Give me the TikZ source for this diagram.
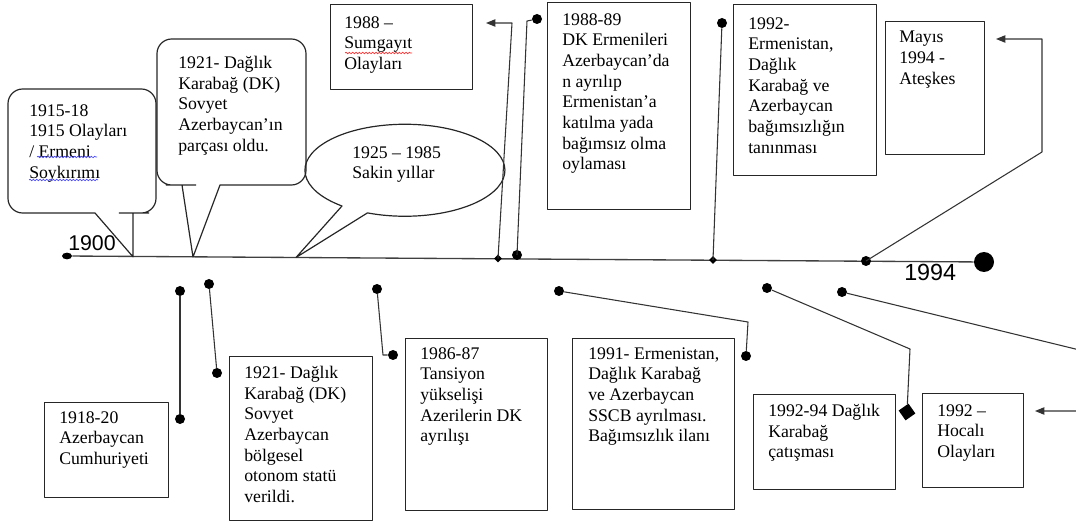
\documentclass[tikz,border=0pt]{standalone}
\usepackage{fontspec}
\setmainfont{Liberation Serif}
\newfontfamily\jahrfont{Liberation Sans}
\usetikzlibrary{arrows.meta,shapes.geometric,decorations.pathmorphing}

\begin{document}
\begin{tikzpicture}[line join=round,>={Triangle[length=7pt,width=5.5pt]},x=0.75pt,y=-0.75pt,
    linie/.style={line width=0.8pt,color=black!80},
    strahl/.style={line width=1pt,color=black!75},
    kasten/.style={draw=black!85,line width=0.9pt,anchor=north west,inner sep=0pt},
    zeilen/.style={anchor=north west,inner sep=0pt,align=left,font=\fontsize{13.3}{15.5}\selectfont},
    punkt/.style={circle,fill=black,inner sep=0pt,minimum size=7.5pt},
    kpunkt/.style={rectangle,fill=black,rotate=45,inner sep=0pt,minimum size=4pt},
    welle/.style={decorate,decoration={snake,amplitude=0.6pt,segment length=2.5pt},line width=0.5pt}]
  \useasboundingbox (0,0) rectangle (1076,524);
  \clip (0,0) rectangle (1076,524);

  % Zeitstrahl
  \node[ellipse,fill=black,inner sep=0pt,minimum width=7.5pt,minimum height=5pt] (anfang) at (67,256) {};
  \node[circle,fill=black,inner sep=0pt,minimum size=15pt] (ende) at (984,262) {};
  \draw[strahl] (anfang) -- (ende);
  \node[anchor=west,inner sep=0pt,font=\jahrfont\fontsize{16}{16}\selectfont] (j1900) at (68,243) {1900};
  \node[anchor=west,inner sep=0pt,font=\jahrfont\fontsize{17.5}{17.5}\selectfont] (j1994) at (904,272) {1994};

  % Sprechblasen oben
  \draw[kasten] (60,213) [rounded corners=11pt] -- (8,213) -- (8,89) -- (156,89) -- (156,213) -- (134,213)
     [sharp corners] -- (133,213) -- (133,256.8) -- (95,213) -- cycle;
  \draw[kasten] (240,185) [rounded corners=11pt] -- (306,185) -- (306,39) -- (157,39) -- (157,185) -- (181,185)
     [sharp corners] -- (182,185) -- (193,257) -- (220,185) -- cycle;
  \draw[kasten] (296,257.5) -- (342,206) arc[start angle=129,end angle=472,x radius=100,y radius=46] -- cycle;
  \node[zeilen] (t1915) at (29,104) {1915-18\\1915 Olayları\\/ Ermeni\\Soykırımı};
  \node[zeilen] (t1921o) at (178,56) {1921- Dağlık\\Karabağ (DK)\\Sovyet\\Azerbaycan’ın\\parçası oldu.};
  \node[zeilen] (t1925) at (352,146) {1925 – 1985\\Sakin yıllar};
  \draw[welle,blue!70] (37,157) -- (97,157); % Rechtschreibung
  \draw[welle,blue!70] (29,180) -- (98,180);

  % Kaesten oben
  \node[kasten,minimum width=106.5pt,minimum height=63.75pt] (k1988) at (330,4) {};
  \node[kasten,minimum width=107.25pt,minimum height=155.25pt] (k8889) at (547,2) {};
  \node[kasten,minimum width=107.25pt,minimum height=128.25pt] (k1992) at (733,4) {};
  \node[kasten,minimum width=74.25pt,minimum height=99.75pt] (kmayis) at (885,21) {};
  \node[zeilen] (t1988) at (344,16) {1988 –\\Sumgayıt\\Olayları};
  \draw[welle,red!80] (345,53) -- (412,53);
  \node[zeilen] (t8889) at (562,13) {1988-89\\DK Ermenileri\\Azerbaycan’da\\n ayrılıp\\Ermenistan’a\\katılma yada\\bağımsız olma\\oylaması};
  \node[zeilen] (t1992) at (748,17) {1992-\\Ermenistan,\\Dağlık\\Karabağ ve\\Azerbaycan\\bağımsızlığın\\tanınması};
  \node[zeilen] (tmayis) at (899,31) {Mayıs\\1994 -\\Ateşkes};

  % Kaesten unten
  \node[kasten,minimum width=93pt,minimum height=71.25pt] (k1918) at (44,402) {};
  \node[kasten,minimum width=107.25pt,minimum height=123pt] (k1921u) at (229,356) {};
  \node[kasten,minimum width=106.5pt,minimum height=129pt] (k8687) at (405,338) {};
  \node[kasten,minimum width=121.5pt,minimum height=128.25pt] (k1991) at (572,338) {};
  \node[kasten,minimum width=106.5pt,minimum height=71.25pt] (k9294) at (753,394) {};
  \node[kasten,minimum width=75.75pt,minimum height=70.5pt] (khocali) at (922,393) {};
  \node[zeilen] (t1918) at (59,411) {1918-20\\Azerbaycan\\Cumhuriyeti};
  \node[zeilen] (t1921u) at (244,366) {1921- Dağlık\\Karabağ (DK)\\Sovyet\\Azerbaycan\\bölgesel\\otonom statü\\verildi.};
  \node[zeilen] (t8687) at (420,347) {1986-87\\Tansiyon\\yükselişi\\Azerilerin DK\\ayrılışı};
  \node[zeilen] (t1991) at (588,347) {1991- Ermenistan,\\Dağlık Karabağ\\ve Azerbaycan\\SSCB ayrılması.\\Bağımsızlık ilanı};
  \node[zeilen] (t9294) at (768,404) {1992-94 Dağlık\\Karabağ\\çatışması};
  \node[zeilen] (thocali) at (937,404) {1992 –\\Hocalı\\Olayları};

  % Punkte
  \foreach \n/\x/\y in {s8889/517/255, smayis/866/261, o8889/537/19, o1992/722/23,
      u1918a/180/291, u1918b/180/419, u1921a/209/284, u1921b/217/373, u8687a/377/289, u8687b/393/355,
      u1991a/559/291, u1991b/746/356, u9294/767/288, uhocali/842/292}
    \node[punkt] (\n) at (\x,\y) {};
  \node[kpunkt] (s1988) at (498,258.5) {};
  \node[kpunkt] (s1992) at (713,260) {};
  \node[rectangle,fill=black,rotate=35,inner sep=0pt,minimum size=9pt] (q9294) at (907,412) {};
  \coordinate (z1988) at (486,23);
  \coordinate (zmayis) at (996,39);
  \coordinate (zhocali) at (1035,411);

  % Verbindungen
  \draw[linie,->] (s1988.center) -- (512,23) -- (z1988);
  \draw[linie] (s8889.center) -- (527,21) -- (o8889);
  \draw[linie] (s1992.center) -- (o1992);
  \draw[linie,->] (smayis.center) -- (1042,152) -- (1042,39) -- (zmayis);
  \draw[linie] (u1918a) -- (u1918b);
  \draw[linie] (u1921a) -- (u1921b);
  \draw[linie] (u8687a) -- (383,355) -- (u8687b);
  \draw[linie] (u1991a) -- (748,322) -- (u1991b);
  \draw[linie] (u9294) -- (910,349) -- (q9294);
  \draw[linie,->] (uhocali) -- (1100,355) -- (1100,411) -- (zhocali);
\end{tikzpicture}
\end{document}
